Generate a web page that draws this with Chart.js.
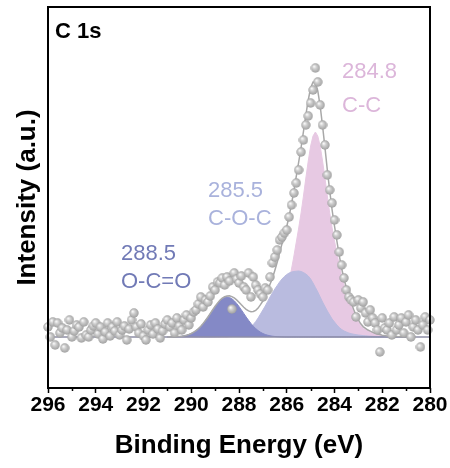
<!DOCTYPE html>
<html>
<head>
<meta charset="utf-8">
<script src="https://cdn.jsdelivr.net/npm/chart.js@4.4.1/dist/chart.umd.min.js"></script>
<style>
  html, body { margin: 0; padding: 0; background: #fff; }
  canvas { display: block; }
</style>
</head>
<body>
<canvas id="xps" width="450" height="468"></canvas>
<script>
// ---- C 1s scan: binding energy (eV) and counts (a.u.) ----
const scanEnergy = [
  296.0,295.9,295.8,295.7,295.6,295.5,295.4,295.3,295.2,295.1,
  295.0,294.9,294.8,294.7,294.6,294.5,294.4,294.3,294.2,294.1,
  294.0,293.9,293.8,293.7,293.6,293.5,293.4,293.3,293.2,293.1,
  293.0,292.9,292.8,292.7,292.6,292.5,292.4,292.3,292.2,292.1,
  292.0,291.9,291.8,291.7,291.6,291.5,291.4,291.3,291.2,291.1,
  291.0,290.9,290.8,290.7,290.6,290.5,290.4,290.3,290.2,290.1,
  290.0,289.9,289.8,289.7,289.6,289.5,289.4,289.3,289.2,289.1,
  289.0,288.9,288.8,288.7,288.6,288.5,288.4,288.3,288.2,288.1,
  288.0,287.9,287.8,287.7,287.6,287.5,287.4,287.3,287.2,287.1,
  287.0,286.9,286.8,286.7,286.6,286.5,286.4,286.3,286.2,286.1,
  286.0,285.9,285.8,285.7,285.6,285.5,285.4,285.3,285.2,285.1,
  285.0,284.9,284.8,284.7,284.6,284.5,284.4,284.3,284.2,284.1,
  284.0,283.9,283.8,283.7,283.6,283.5,283.4,283.3,283.2,283.1,
  283.0,282.9,282.8,282.7,282.6,282.5,282.4,282.3,282.2,282.1,
  282.0,281.9,281.8,281.7,281.6,281.5,281.4,281.3,281.2,281.1,
  281.0,280.9,280.8,280.7,280.6,280.5,280.4,280.3,280.2,280.1,
  280.0
];
const scanIntensity = [
  61,51,66,43,65,55,60,40,58,68,
  51,57,63,61,50,66,53,51,58,62,
  65,54,61,49,56,65,52,61,57,66,
  53,58,62,48,59,68,75,61,55,64,
  52,48,58,63,54,65,59,50,57,64,
  68,61,65,55,70,62,58,68,73,63,
  70,76,78,84,91,81,88,86,92,101,
  98,106,105,110,103,111,107,79,115,109,
  105,112,101,98,115,91,111,103,98,94,
  91,100,98,111,125,131,138,148,151,155,
  158,171,183,195,205,218,236,248,263,272,
  285,298,320,306,283,263,243,213,198,185,
  168,153,136,123,110,98,91,88,86,71,
  88,80,86,75,66,78,70,65,58,36,
  70,60,58,65,53,71,58,63,70,55,
  66,73,51,61,68,58,41,63,71,58,
  68
];

// ---- Peak fit: energy grid and component heights above the background ----
const fitEnergy = [
  291.0,290.9,290.8,290.7,290.6,290.5,290.4,290.3,290.2,290.1,
  290.0,289.9,289.8,289.7,289.6,289.5,289.4,289.3,289.2,289.1,
  289.0,288.9,288.8,288.7,288.6,288.5,288.4,288.3,288.2,288.1,
  288.0,287.9,287.8,287.7,287.6,287.5,287.4,287.3,287.2,287.1,
  287.0,286.9,286.8,286.7,286.6,286.5,286.4,286.3,286.2,286.1,
  286.0,285.9,285.8,285.7,285.6,285.5,285.4,285.3,285.2,285.1,
  285.0,284.9,284.8,284.7,284.6,284.5,284.4,284.3,284.2,284.1,
  284.0,283.9,283.8,283.7,283.6,283.5,283.4,283.3,283.2,283.1,
  283.0,282.9,282.8,282.7,282.6,282.5,282.4,282.3,282.2,282.1,
  282.0,281.9,281.8,281.7,281.6,281.5,281.4,281.3,281.2,281.1,
  281.0
];
// O-C=O, centred at 288.5 eV
const peakOCO = [
  0,0,0.1,0.2,0.3,0.5,0.8,1.2,1.8,2.5,
  3.5,4.8,6.4,8.4,10.8,13.6,16.7,20.0,23.6,27.1,
  30.5,33.6,36.3,38.3,39.6,40,39.6,38.3,36.3,33.6,
  30.5,27.1,23.6,20.0,16.7,13.6,10.8,8.4,6.4,4.8,
  3.5,2.5,1.8,1.2,0.8,0.5,0.3,0.2,0.1,0,
  0,0,0,0,0,0,0,0,0,0,
  0,0,0,0,0,0,0,0,0,0,
  0,0,0,0,0,0,0,0,0,0,
  0,0,0,0,0,0,0,0,0,0,
  0,0,0,0,0,0,0,0,0,0,
  0
];
// C-O-C, centred at 285.5 eV
const peakCOC = [
  0,0,0,0,0,0,0,0,0,0,
  0,0,0,0,0,0,0,0,0.1,0.15,
  0.2,0.3,0.4,0.55,0.7,1.0,1.3,1.7,2.2,2.8,
  3.5,4.2,5.2,6.5,8,10,12.5,15.5,19,23,
  27,31,35.5,40,44,48,51.5,55,58,60.5,
  62.5,64,65,65.5,65.8,66,65.5,64.5,63,61,
  58,54,49.5,45,40,35,30.5,26,22,18,
  15,12,9.5,7.5,6,5,4,3.3,2.8,2.3,
  2,1.7,1.4,1.2,1,0.8,0.65,0.5,0.4,0.3,
  0.2,0.15,0.1,0.05,0,0,0,0,0,0,
  0
];
// C-C, centred at 284.8 eV
const peakCC = [
  0,0,0,0,0,0,0,0,0,0,
  0,0,0,0,0,0,0,0,0,0,
  0,0,0,0,0,0,0.3,0.4,0.55,0.7,
  0.8,0.9,1.0,1.2,1.4,1.7,2.2,2.8,3.5,4.5,
  5.5,7,9,11.5,14,18,23,29,35,41,
  48,57,68,81,95,109,124,141,159,176,
  191,201,205,201,191,176,159,141,124,109,
  96,84,72,61,52,44,37,31,25,19.5,
  15,11.5,9,7.5,6,5,4,3.3,2.6,2.1,
  1.6,1.3,1.0,0.8,0.6,0.5,0.4,0.3,0.25,0.2,
  0.2
];
const background = 51;

// Axis ticks and peak annotations
const xTicks = [296, 294, 292, 290, 288, 286, 284, 282, 280];
const xMinorTicks = [295, 293, 291, 289, 287, 285, 283, 281];
const peakPositions = ['284.8', '285.5', '288.5'];
const peakNames = ['C-C', 'C-O-C', 'O-C=O'];

// ---- styling ----
const FONT = "'Liberation Sans', Arial, sans-serif";
const peakColors = { fill: ['#e7c9e3', '#b9bbdf', '#8489c6'], text: ['#dcb6da', '#a9b2dc', '#717ab6'] };
const labelSpots = [
  { x: 342, y1: 78, y2: 112 },
  { x: 208, y1: 197, y2: 225 },
  { x: 121, y1: 260, y2: 288 }
];

function makeBall(d) {
  const c = document.createElement('canvas');
  c.width = c.height = d;
  const g = c.getContext('2d');
  const r = d / 2;
  const grad = g.createRadialGradient(r * 0.72, r * 0.68, r * 0.08, r, r, r);
  grad.addColorStop(0, '#f8f8f8');
  grad.addColorStop(0.35, '#cfcfcf');
  grad.addColorStop(1, '#9d9d9d');
  g.fillStyle = grad;
  g.beginPath();
  g.arc(r, r, r - 0.3, 0, Math.PI * 2);
  g.fill();
  return c;
}
const ball = makeBall(10);

const componentSeries = h => fitEnergy.map((e, i) => ({ x: e, y: background + h[i] }));
const envelope = fitEnergy.map((e, i) => ({ x: e, y: background + peakOCO[i] + peakCOC[i] + peakCC[i] }));
const scanPoints = scanEnergy.map((e, i) => ({ x: e, y: scanIntensity[i] }));

const decor = {
  id: 'decor',
  afterDraw(chart) {
    const { ctx, chartArea: a, scales: { x } } = chart;
    ctx.save();
    ctx.strokeStyle = '#000';
    ctx.lineWidth = 1.5;
    xMinorTicks.forEach(v => {
      const px = Math.round(x.getPixelForValue(v)) + 0.5;
      ctx.beginPath();
      ctx.moveTo(px, a.bottom);
      ctx.lineTo(px, a.bottom + 3);
      ctx.stroke();
    });
    ctx.lineWidth = 2;
    ctx.strokeRect(a.left, a.top, a.right - a.left, a.bottom - a.top);

    ctx.fillStyle = '#000';
    ctx.textBaseline = 'alphabetic';
    ctx.textAlign = 'left';
    ctx.font = 'bold 22px ' + FONT;
    ctx.fillText('C 1s', 55, 38);

    ctx.font = '22px ' + FONT;
    peakNames.forEach((n, i) => {
      ctx.fillStyle = peakColors.text[i];
      ctx.fillText(peakPositions[i], labelSpots[i].x, labelSpots[i].y1);
      ctx.fillText(n, labelSpots[i].x, labelSpots[i].y2);
    });
    ctx.restore();
  }
};

const fillSet = (h, idx, order) => ({
  data: componentSeries(h),
  borderColor: peakColors.fill[idx],
  borderWidth: 1,
  backgroundColor: peakColors.fill[idx],
  fill: { value: background },
  pointRadius: 0,
  tension: 0,
  order
});

new Chart(document.getElementById('xps'), {
  type: 'line',
  data: {
    datasets: [
      {
        data: scanPoints,
        showLine: false,
        pointStyle: ball,
        pointRadius: 5,
        clip: 8,
        order: 0
      },
      {
        data: envelope,
        borderColor: '#a8a8a8',
        borderWidth: 1.5,
        pointRadius: 0,
        fill: false,
        order: 1
      },
      {
        data: [{ x: 296, y: background }, { x: 280, y: background }],
        borderColor: '#8e8ea6',
        borderWidth: 1.5,
        pointRadius: 0,
        fill: false,
        order: 2
      },
      fillSet(peakOCO, 2, 3),
      fillSet(peakCOC, 1, 4),
      fillSet(peakCC, 0, 5)
    ]
  },
  options: {
    responsive: false,
    devicePixelRatio: 1,
    animation: false,
    events: [],
    layout: { padding: { top: 7, right: 20, left: 0, bottom: 0 } },
    plugins: { legend: { display: false }, tooltip: { enabled: false } },
    scales: {
      x: {
        type: 'linear',
        reverse: true,
        min: 280,
        max: 296,
        afterBuildTicks: s => { s.ticks = xTicks.map(v => ({ value: v })); },
        afterFit: s => { s.height = 80; },
        border: { display: false },
        grid: { display: true, drawOnChartArea: false, drawTicks: true, tickLength: 5, tickWidth: 1.5, tickColor: '#000' },
        ticks: { color: '#000', padding: 0, maxRotation: 0, autoSkip: false, font: { family: FONT, size: 21, weight: 'bold' } },
        title: { display: true, text: 'Binding Energy (eV)', color: '#000', padding: { top: 0, bottom: 7 }, font: { family: FONT, size: 26, weight: 'bold' } }
      },
      y: {
        min: 0,
        max: 381,
        afterFit: s => { s.width = 48; },
        border: { display: false },
        grid: { display: false },
        ticks: { display: false },
        title: { display: true, text: 'Intensity (a.u.)', color: '#000', padding: { top: 12, bottom: 0 }, font: { family: FONT, size: 26, weight: 'bold' } }
      }
    }
  },
  plugins: [decor]
});
</script>
</body>
</html>
